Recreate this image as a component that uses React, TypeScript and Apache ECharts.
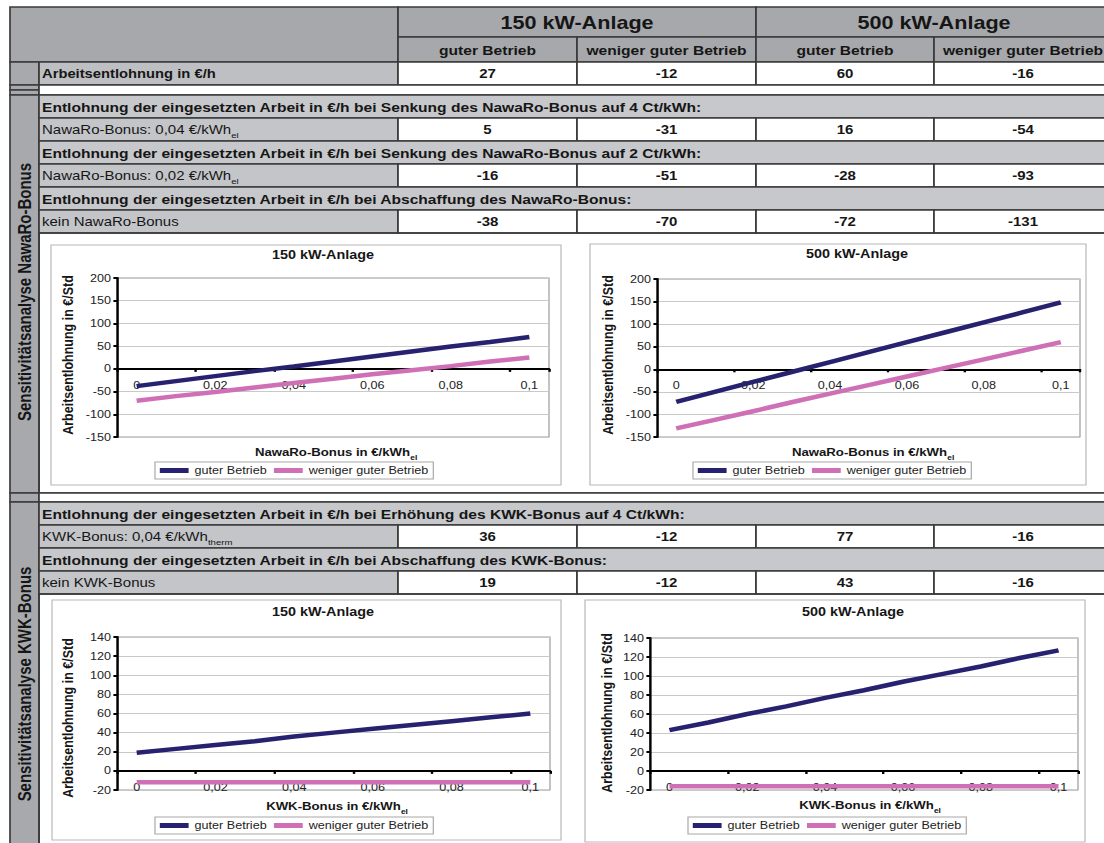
import React, { useEffect, useRef } from "react";
import * as echarts from "echarts";

// ---------- data ----------
const plantNames = ["150 kW-Anlage", "500 kW-Anlage"];
const operationNames = ["guter Betrieb", "weniger guter Betrieb"];
const baseRowLabel = "Arbeitsentlohnung in €/h";
const baseRowValues = [27, -12, 60, -16];

const nawaroGroupLabel = "Sensitivitätsanalyse NawaRo-Bonus";
const nawaroHeadings = [
  "Entlohnung der eingesetzten Arbeit in €/h bei Senkung des NawaRo-Bonus auf 4 Ct/kWh:",
  "Entlohnung der eingesetzten Arbeit in €/h bei Senkung des NawaRo-Bonus auf 2 Ct/kWh:",
  "Entlohnung der eingesetzten Arbeit in €/h bei Abschaffung des NawaRo-Bonus:",
];
const nawaroRowLabels = [
  ["NawaRo-Bonus: 0,04 €/kWh", "el"],
  ["NawaRo-Bonus: 0,02 €/kWh", "el"],
  ["kein NawaRo-Bonus", ""],
];
const nawaroRowValues = [
  [5, -31, 16, -54],
  [-16, -51, -28, -93],
  [-38, -70, -72, -131],
];

const kwkGroupLabel = "Sensitivitätsanalyse KWK-Bonus";
const kwkHeadings = [
  "Entlohnung der eingesetzten Arbeit in €/h bei Erhöhung des KWK-Bonus auf 4 Ct/kWh:",
  "Entlohnung der eingesetzten Arbeit in €/h bei Abschaffung des KWK-Bonus:",
];
const kwkRowLabels = [
  ["KWK-Bonus: 0,04 €/kWh", "therm"],
  ["kein KWK-Bonus", ""],
];
const kwkRowValues = [
  [36, -12, 77, -16],
  [19, -12, 43, -16],
];

const bonusSteps = ["0", "0,01", "0,02", "0,03", "0,04", "0,05", "0,06", "0,07", "0,08", "0,09", "0,1"];
const yAxisTitle = "Arbeitsentlohnung in €/Std";
const nawaroAxisTitle = ["NawaRo-Bonus in €/kWh", "el"];
const kwkAxisTitle = ["KWK-Bonus in €/kWh", "el"];

const nawaro150Good = [-38, -27, -16, -5, 5, 16, 27, 38, 49, 59, 70];
const nawaro150Weak = [-70, -60, -51, -41, -31, -22, -12, -3, 6, 16, 25];
const nawaro500Good = [-72, -50, -28, -6, 16, 38, 60, 82, 104, 126, 148];
const nawaro500Weak = [-131, -112, -93, -73, -54, -35, -16, 3, 22, 41, 60];
const kwk150Good = [19, 23, 27, 31, 36, 40, 44, 48, 52, 56, 60];
const kwk150Weak = [-12, -12, -12, -12, -12, -12, -12, -12, -12, -12, -12];
const kwk500Good = [43, 51, 60, 68, 77, 85, 94, 102, 110, 119, 127];
const kwk500Weak = [-16, -16, -16, -16, -16, -16, -16, -16, -16, -16, -16];

const nawaroScale = { min: -150, max: 200, interval: 50 };
const kwkScale = { min: -20, max: 140, interval: 20 };

// ---------- layout / style ----------
const S = 1.2; // horizontal stretch of the picture
const W = 1104;
const H = 843;
const X = (v: number) => v / S;
const FONT = "'Liberation Sans', Arial, Helvetica, sans-serif";
const LINE = "#3a3a3a";
const HEADER_GRAY = "#a6a8ab";
const LEFT_GRAY = "#a7a9ac";
const LABEL_GRAY = "#c3c5c8";
const BASE_GRAY = "#bdbfc2";
const SECTION_GRAY = "#c6c8cb";
const TEXT = "#161616";
const GOOD_COLOR = "#27226f";
const WEAK_COLOR = "#cf6fb6";

const COLS = [398, 577, 756, 934, 1112];
const LEFT = 10;
const LABEL_X = 39;
const RIGHT = 1112;

function cell(x1: number, y1: number, x2: number, y2: number, fill: string) {
  return {
    type: "rect",
    z: 1,
    shape: { x: X(x1), y: y1, width: X(x2) - X(x1), height: y2 - y1 },
    style: { fill, stroke: LINE, lineWidth: 1.4 },
  };
}

function txt(x: number, y: number, text: string, size: number, weight: string, align = "left", extra: any = {}) {
  return {
    type: "text",
    z: 5,
    x: X(x),
    y,
    ...extra,
    style: {
      text,
      fontSize: size,
      fontWeight: weight,
      fontFamily: FONT,
      fill: TEXT,
      align,
      verticalAlign: "middle",
    },
  };
}

function subTxt(x: number, y: number, main: string, sub: string, size: number, weight: string, align = "left") {
  if (!sub) return txt(x, y, main, size, weight, align);
  return {
    type: "text",
    z: 5,
    x: X(x),
    y,
    style: {
      text: `{m|${main}}{s|${sub}}`,
      align,
      verticalAlign: "middle",
      rich: {
        m: { fontSize: size, fontWeight: weight, fontFamily: FONT, fill: TEXT, lineHeight: size + 7 },
        s: { fontSize: Math.round(size * 0.6), fontWeight: weight, fontFamily: FONT, fill: TEXT, verticalAlign: "bottom" },
      },
    },
  };
}

function buildTable() {
  const els: any[] = [];
  // header
  els.push(cell(LEFT, 7, COLS[0], 62, HEADER_GRAY));
  plantNames.forEach((p, i) => {
    const x1 = COLS[i * 2];
    const x2 = COLS[i * 2 + 2];
    els.push(cell(x1, 7, x2, 37, HEADER_GRAY));
    els.push(txt((x1 + x2) / 2, 22.5, p, 18, "bold", "center"));
  });
  for (let c = 0; c < 4; c++) {
    els.push(cell(COLS[c], 37, COLS[c + 1], 62, HEADER_GRAY));
    els.push(txt((COLS[c] + COLS[c + 1]) / 2, 50, operationNames[c % 2], 13, "bold", "center"));
  }
  // base row
  els.push(cell(LEFT, 62, LABEL_X, 85, LEFT_GRAY));
  els.push(cell(LABEL_X, 62, COLS[0], 85, BASE_GRAY));
  els.push(txt(42, 74, baseRowLabel, 12.3, "bold"));
  baseRowValues.forEach((v, c) => {
    els.push(cell(COLS[c], 62, COLS[c + 1], 85, "#ffffff"));
    els.push(txt((COLS[c] + COLS[c + 1]) / 2, 74, String(v), 12.5, "bold", "center"));
  });
  // separator
  els.push(cell(LEFT, 85, LABEL_X, 90, LEFT_GRAY));
  els.push(cell(LEFT, 90, LABEL_X, 95, LEFT_GRAY));
  els.push(cell(LABEL_X, 85, RIGHT, 95, "#ffffff"));

  const section = (top: number, headings: string[], labels: string[][], values: number[][], bottom: number, groupLabel: string, groupCenter: number, sepBottom: number | null) => {
    els.push(cell(LEFT, top, LABEL_X, bottom, LEFT_GRAY));
    els.push(
      txt(25, groupCenter, groupLabel, 15, "bold", "center", { rotation: Math.PI / 2 })
    );
    let y = top;
    const rh = 23;
    headings.forEach((h, i) => {
      els.push(cell(LABEL_X, y, RIGHT, y + rh, SECTION_GRAY));
      els.push(txt(42, y + rh / 2 + 0.5, h, 13, "bold"));
      y += rh;
      els.push(cell(LABEL_X, y, COLS[0], y + rh, LABEL_GRAY));
      els.push(subTxt(42, y + rh / 2 + 0.5, labels[i][0], labels[i][1], 12.5, "normal"));
      values[i].forEach((v, c) => {
        els.push(cell(COLS[c], y, COLS[c + 1], y + rh, "#ffffff"));
        els.push(txt((COLS[c] + COLS[c + 1]) / 2, y + rh / 2 + 0.5, String(v), 12.5, "bold", "center"));
      });
      y += rh;
    });
    els.push({
      type: "rect",
      z: 1,
      shape: { x: X(LABEL_X), y, width: X(RIGHT) - X(LABEL_X), height: bottom - y },
      style: { fill: "none", stroke: LINE, lineWidth: 1.4 },
    });
    if (sepBottom !== null) {
      els.push(cell(LEFT, bottom, LABEL_X, sepBottom, LEFT_GRAY));
      els.push(cell(LABEL_X, bottom, RIGHT, sepBottom, "#ffffff"));
    }
  };
  section(95, nawaroHeadings, nawaroRowLabels, nawaroRowValues, 493, nawaroGroupLabel, 292, 502);
  section(502, kwkHeadings, kwkRowLabels, kwkRowValues, 852, kwkGroupLabel, 684, null);
  return els;
}

// chart panels (reference pixel coordinates)
const panels = [
  {
    box: [51, 245, 561, 485], plot: [117, 278, 549, 437], title: plantNames[0], titleX: 323, titleY: 255,
    yTitle: [68, 355], xTitle: [336, 452], axisTitle: nawaroAxisTitle, legend: [155, 462], scale: nawaroScale,
    good: nawaro150Good, weak: nawaro150Weak,
  },
  {
    box: [590, 244, 1086, 485], plot: [657, 279, 1080, 437], title: plantNames[1], titleX: 857, titleY: 254,
    yTitle: [608, 355], xTitle: [873, 452], axisTitle: nawaroAxisTitle, legend: [693, 462], scale: nawaroScale,
    good: nawaro500Good, weak: nawaro500Weak,
  },
  {
    box: [52, 600, 561, 840], plot: [117, 637, 550, 790], title: plantNames[0], titleX: 323, titleY: 612,
    yTitle: [68, 718], xTitle: [337, 806], axisTitle: kwkAxisTitle, legend: [155, 817], scale: kwkScale,
    good: kwk150Good, weak: kwk150Weak,
  },
  {
    box: [585, 600, 1085, 842], plot: [650, 638, 1078, 790], title: plantNames[1], titleX: 853, titleY: 612,
    yTitle: [607, 713], xTitle: [870, 805], axisTitle: kwkAxisTitle, legend: [688, 817], scale: kwkScale,
    good: kwk500Good, weak: kwk500Weak,
  },
];

function buildOption() {
  const graphics: any[] = buildTable();
  const grid: any[] = [];
  const xAxis: any[] = [];
  const yAxis: any[] = [];
  const series: any[] = [];
  const legend: any[] = [];

  panels.forEach((p, i) => {
    const [bx1, by1, bx2, by2] = p.box;
    graphics.push({
      type: "rect",
      z: 1,
      shape: { x: X(bx1), y: by1, width: X(bx2) - X(bx1), height: by2 - by1 },
      style: { fill: "none", stroke: "#b8b8b8", lineWidth: 1 },
    });
    graphics.push(txt(p.titleX, p.titleY, p.title, 12, "bold", "center"));
    graphics.push(txt(p.yTitle[0], p.yTitle[1], yAxisTitle, 12.5, "bold", "center", { rotation: Math.PI / 2 }));
    graphics.push(subTxt(p.xTitle[0], p.xTitle[1], p.axisTitle[0], p.axisTitle[1], 11, "bold", "center"));

    const [px1, py1, px2, py2] = p.plot;
    const plotH = py2 - py1;
    const zeroOffset = -(plotH * (0 - p.scale.min)) / (p.scale.max - p.scale.min);
    grid.push({
      left: X(px1),
      top: py1,
      width: X(px2) - X(px1),
      height: plotH,
      show: true,
      borderColor: "#9c9c9c",
      borderWidth: 1,
      backgroundColor: "transparent",
    });
    xAxis.push({
      type: "category",
      gridIndex: i,
      position: "bottom",
      offset: zeroOffset,
      data: bonusSteps,
      boundaryGap: true,
      axisLine: { show: true, onZero: false, lineStyle: { color: "#000", width: 2 } },
      axisTick: { show: true, interval: 1, length: 3, lineStyle: { color: "#000", width: 2 } },
      axisLabel: { interval: 1, fontSize: 10.5, fontFamily: FONT, color: "#222", margin: 11 },
      splitLine: { show: false },
    });
    yAxis.push({
      type: "value",
      gridIndex: i,
      min: p.scale.min,
      max: p.scale.max,
      interval: p.scale.interval,
      axisLine: { show: true, lineStyle: { color: "#000", width: 2 } },
      axisTick: { show: true, length: 3, lineStyle: { color: "#000", width: 2 } },
      axisLabel: { fontSize: 10.5, fontFamily: FONT, color: "#222", margin: 5 },
      splitLine: { show: true, lineStyle: { color: "#c9c9c9", width: 1 } },
    });
    series.push({
      type: "line",
      name: operationNames[0],
      xAxisIndex: i,
      yAxisIndex: i,
      data: p.good,
      symbol: "none",
      lineStyle: { width: 4.5, color: GOOD_COLOR },
      itemStyle: { color: GOOD_COLOR },
      z: 3,
    });
    series.push({
      type: "line",
      name: operationNames[1],
      xAxisIndex: i,
      yAxisIndex: i,
      data: p.weak,
      symbol: "none",
      lineStyle: { width: 4.5, color: WEAK_COLOR },
      itemStyle: { color: WEAK_COLOR },
      z: 3,
    });
    legend.push({
      data: operationNames,
      left: X(p.legend[0]),
      top: p.legend[1],
      orient: "horizontal",
      icon: "rect",
      itemWidth: 24,
      itemHeight: 5,
      itemGap: 6,
      padding: [3, 4, 3, 4],
      borderColor: "#a8a8a8",
      borderWidth: 1,
      backgroundColor: "#ffffff",
      selectedMode: false,
      textStyle: { fontSize: 10.5, fontFamily: FONT, color: "#222" },
    });
  });

  return {
    animation: false,
    backgroundColor: "#ffffff",
    textStyle: { fontFamily: FONT },
    grid,
    xAxis,
    yAxis,
    series,
    legend,
    graphic: { elements: graphics },
  };
}

export default function App() {
  const ref = useRef<HTMLDivElement>(null);
  useEffect(() => {
    if (!ref.current) return;
    const chart = echarts.init(ref.current, undefined, { renderer: "svg" });
    chart.setOption(buildOption() as any);
    return () => {
      chart.dispose();
    };
  }, []);
  return (
    <div
      ref={ref}
      style={{
        position: "fixed",
        left: 0,
        top: 0,
        width: W / S,
        height: H,
        transform: `scaleX(${S})`,
        transformOrigin: "0 0",
        background: "#ffffff",
      }}
    />
  );
}
